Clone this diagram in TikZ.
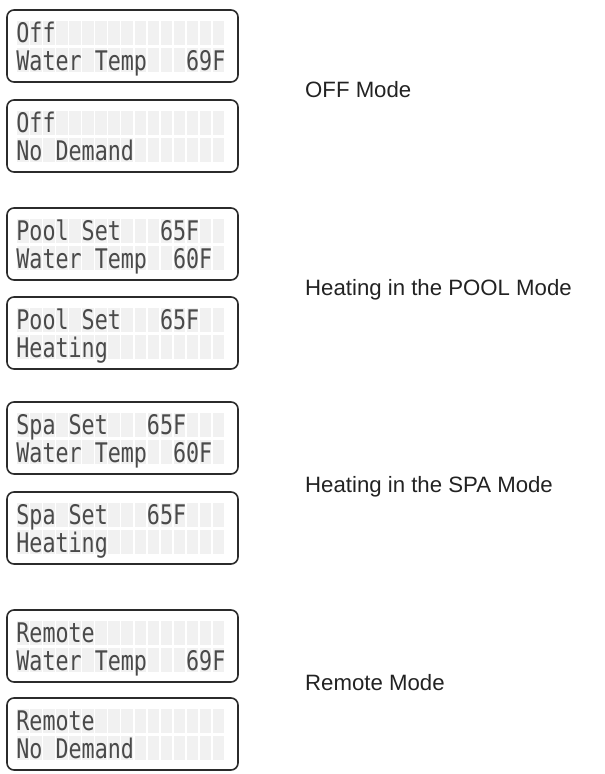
\documentclass[tikz,border=0pt]{standalone}
\usepackage{fontspec}
\setmainfont{Liberation Sans}
\newfontfamily\lcdfont[FakeStretch=0.8034]{DejaVu Sans Mono}
\usetikzlibrary{calc}
\definecolor{LcdFrame}{HTML}{2B2B2B}
\definecolor{LcdCell}{HTML}{F1F1F1}
\definecolor{LcdInk}{HTML}{4A4A4A}
\definecolor{LabelInk}{HTML}{222222}
\newcommand{\lcdblank}{\hphantom{0}}

\begin{document}
\begin{tikzpicture}[x=1pt,y=-1pt,
  lcdbox/.style={draw=LcdFrame,line width=1.6pt,rounded corners=7pt,fill=white},
  lcdcell/.style={fill=LcdCell},
  lcdtext/.style={anchor=base west,inner sep=0pt,text=LcdInk,font=\lcdfont\fontsize{27}{27}\selectfont},
  modelabel/.style={anchor=base west,inner sep=0pt,text=LabelInk,font=\fontsize{22.2}{24}\selectfont}]
  \useasboundingbox (0,0) rectangle (605,774);
  % display frames with their 2x16 character cells
  \foreach \name/\top in {off1/10,off2/100,pool1/208,pool2/297,spa1/402,spa2/492,rem1/610,rem2/698}{
    \draw[lcdbox] (7,\top) rectangle (238,\top+72);
    \foreach \col in {0,...,15}{
      \fill[lcdcell] (17+13.06*\col,\top+11) rectangle ++(11.5,24);
      \fill[lcdcell] (17+13.06*\col,\top+38) rectangle ++(11.5,24);
    }
    \coordinate (\name) at (16.2,\top);
  }
  % OFF
  \node[lcdtext] (off1a) at ($(off1)+(0,32)$) {Off};
  \node[lcdtext] (off1b) at ($(off1)+(0,60)$) {Water\lcdblank Temp\lcdblank\lcdblank\lcdblank 69F};
  \node[lcdtext] (off2a) at ($(off2)+(0,32)$) {Off};
  \node[lcdtext] (off2b) at ($(off2)+(0,60)$) {No\lcdblank Demand};
  % POOL
  \node[lcdtext] (pool1a) at ($(pool1)+(0,32)$) {Pool\lcdblank Set\lcdblank\lcdblank\lcdblank 65F};
  \node[lcdtext] (pool1b) at ($(pool1)+(0,60)$) {Water\lcdblank Temp\lcdblank\lcdblank 60F};
  \node[lcdtext] (pool2a) at ($(pool2)+(0,32)$) {Pool\lcdblank Set\lcdblank\lcdblank\lcdblank 65F};
  \node[lcdtext] (pool2b) at ($(pool2)+(0,60)$) {Heating};
  % SPA
  \node[lcdtext] (spa1a) at ($(spa1)+(0,32)$) {Spa\lcdblank Set\lcdblank\lcdblank\lcdblank 65F};
  \node[lcdtext] (spa1b) at ($(spa1)+(0,60)$) {Water\lcdblank Temp\lcdblank\lcdblank 60F};
  \node[lcdtext] (spa2a) at ($(spa2)+(0,32)$) {Spa\lcdblank Set\lcdblank\lcdblank\lcdblank 65F};
  \node[lcdtext] (spa2b) at ($(spa2)+(0,60)$) {Heating};
  % REMOTE
  \node[lcdtext] (rem1a) at ($(rem1)+(0,32)$) {Remote};
  \node[lcdtext] (rem1b) at ($(rem1)+(0,60)$) {Water\lcdblank Temp\lcdblank\lcdblank\lcdblank 69F};
  \node[lcdtext] (rem2a) at ($(rem2)+(0,32)$) {Remote};
  \node[lcdtext] (rem2b) at ($(rem2)+(0,60)$) {No\lcdblank Demand};
  % mode labels
  \node[modelabel] (offlbl) at (305,97) {OFF Mode};
  \node[modelabel] (poollbl) at (305,295) {Heating in the POOL Mode};
  \node[modelabel] (spalbl) at (305,492) {Heating in the SPA Mode};
  \node[modelabel] (remlbl) at (305,690) {Remote Mode};
\end{tikzpicture}
\end{document}
